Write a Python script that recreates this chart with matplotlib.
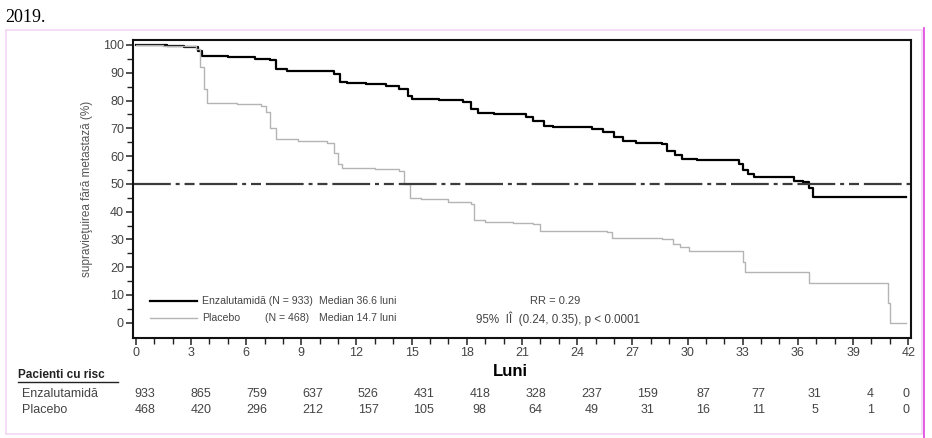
import numpy as np
import matplotlib
matplotlib.use("Agg")
import matplotlib.pyplot as plt
from matplotlib.lines import Line2D
from matplotlib.patches import Rectangle

plt.rcParams['font.family'] = ['Liberation Sans Narrow', 'Liberation Sans', 'DejaVu Sans']

# curbe Kaplan-Meier (luni, %)
enza_t = [0, 1.7, 2.6, 3.4, 3.6, 5.0, 6.5, 7.3, 7.6, 8.2, 10.8, 11.1, 11.5, 12.5,
          13.6, 14.3, 14.8, 15.0, 16.5, 17.8, 18.2, 18.6, 19.5, 21.2, 21.6, 22.2,
          22.7, 24.8, 25.4, 26.0, 26.5, 27.2, 28.6, 28.9, 29.3, 29.7, 30.5, 32.8,
          33.0, 33.3, 33.6, 35.8, 36.3, 36.6, 36.8, 41.9]
enza_s = [100, 99.5, 99.2, 98.0, 96.0, 95.6, 95.0, 94.5, 91.5, 90.8, 89.5, 86.5,
          86.2, 85.8, 85.3, 84.2, 81.5, 80.5, 80.2, 79.5, 77.0, 75.5, 75.0, 74.2,
          72.5, 71.0, 70.3, 69.8, 68.5, 67.0, 65.5, 64.8, 64.3, 62.0, 60.5, 58.8,
          58.5, 57.0, 55.0, 53.5, 52.3, 51.0, 50.5, 48.5, 45.3, 45.3]

plac_t = [0, 1.5, 3.3, 3.5, 3.7, 3.9, 5.5, 6.8, 7.1, 7.3, 7.6, 8.8, 10.4, 10.8,
          11.0, 11.2, 13.0, 14.3, 14.6, 14.9, 15.5, 17.0, 18.2, 18.4, 19.0, 20.5,
          21.6, 22.0, 25.6, 25.9, 28.6, 29.2, 29.6, 30.1, 33.0, 33.1, 36.6, 40.9,
          41.0, 41.9]
plac_s = [100, 99.8, 98.5, 92, 84, 79.2, 78.8, 78.0, 76, 70, 66.0, 65.5, 64.8, 61,
          57, 55.8, 55.5, 54.5, 50, 45.0, 44.4, 43.5, 42.7, 37.0, 36.3, 35.8, 35.4,
          33.1, 32.6, 30.4, 30.0, 28.5, 27.2, 25.9, 22, 18.3, 14.3, 7, 0, 0]

risc_luni = list(range(0, 43, 3))
risc_enza = [933, 865, 759, 637, 526, 431, 418, 328, 237, 159, 87, 77, 31, 4, 0]
risc_plac = [468, 420, 296, 212, 157, 105, 98, 64, 49, 31, 16, 11, 5, 1, 0]

W, H = 932, 438
fig = plt.figure(figsize=(W / 100, H / 100), dpi=100)
fig.patch.set_facecolor('white')

def fx(px):
    return px / W

def fy(py):
    return 1 - py / H

# chenar scanare
fig.patches.append(Rectangle((fx(6), fy(434)), fx(916), (434 - 30) / H,
                             transform=fig.transFigure, fill=False,
                             edgecolor='#f3d6f3', lw=1.2))
fig.lines.append(Line2D([fx(924), fx(924)], [0, fy(28)], transform=fig.transFigure,
                        color='#e040e0', lw=1.2))
fig.text(fx(5), fy(18), '2019.', family='Liberation Serif', fontsize=13,
         va='center', ha='left', color='black')

ax = fig.add_axes([fx(133), fy(338), (911 - 133) / W, (338 - 40) / H])
ax.step(enza_t, enza_s, where='post', color='black', lw=1.6)
ax.step(plac_t, plac_s, where='post', color='#b4b4b4', lw=1.0)
ax.axhline(50, color='#3c3c3c', lw=1.6,
           linestyle=(0, (17, 2.2, 1.8, 2.2, 4.5, 2.2)))

ax.set_xlim(-0.15, 42.15)
ax.set_ylim(-5.5, 101.8)
ax.set_xticks(risc_luni)
ax.set_xticks(range(0, 43), minor=True)
ax.set_yticks(range(0, 101, 10))
ax.set_yticks(range(0, 101, 5), minor=True)
ax.tick_params(axis='both', which='major', direction='out', length=5, width=1.1,
               labelsize=9, labelcolor='#444444', color='#222222', pad=1.5)
ax.tick_params(axis='both', which='minor', direction='out', length=4, width=1.0,
               color='#222222')
for s in ax.spines.values():
    s.set_linewidth(1.5)
    s.set_color('#111111')

ax.set_ylabel('supravieţuirea fără metastază (%)', fontsize=8.5, color='#555555',
              labelpad=7)

# legenda
ax.plot([0.75, 3.35], [8.0, 8.0], color='black', lw=1.6)
ax.plot([0.75, 3.35], [1.6, 1.6], color='#b4b4b4', lw=1.0)
tc = '#444444'
lf = 7.6
ax.text(3.6, 8.0, 'Enzalutamidă (N = 933)', fontsize=lf, color=tc, va='center')
ax.text(3.6, 1.6, 'Placebo', fontsize=lf, color=tc, va='center')
ax.text(7.05, 1.6, '(N = 468)', fontsize=lf, color=tc, va='center')
ax.text(9.95, 8.0, 'Median 36.6 luni', fontsize=lf, color=tc, va='center')
ax.text(9.95, 1.6, 'Median 14.7 luni', fontsize=lf, color=tc, va='center')
ax.text(22.8, 8.0, 'RR = 0.29', fontsize=8, color=tc, va='center', ha='center')
ax.text(18.5, 1.6, '95%  IÎ  (0.24, 0.35), p < 0.0001', fontsize=8.4, color=tc,
        va='center')

# tabel pacienti cu risc
fig.text(fx(510), fy(372), 'Luni', fontsize=12, fontweight='bold', ha='center',
         va='center', color='black')
fig.text(fx(18), fy(375), 'Pacienti cu risc', fontsize=8.5, fontweight='bold',
         ha='left', va='center', color='#222222')
fig.lines.append(Line2D([fx(18), fx(118)], [fy(382), fy(382)],
                        transform=fig.transFigure, color='#222222', lw=1.0))
fig.text(fx(22), fy(394), 'Enzalutamidă', fontsize=9, ha='left', va='center',
         color='#444444')
fig.text(fx(22), fy(410), 'Placebo', fontsize=9, ha='left', va='center',
         color='#444444')
for i, (m, e, p) in enumerate(zip(risc_luni, risc_enza, risc_plac)):
    xp = 145 + i * 55.8 if i < len(risc_luni) - 1 else 906
    fig.text(fx(xp), fy(394), str(e), fontsize=9, ha='center', va='center',
             color='#444444')
    fig.text(fx(xp), fy(410), str(p), fontsize=9, ha='center', va='center',
             color='#444444')

fig.savefig('out.png', dpi=100, facecolor='white')
